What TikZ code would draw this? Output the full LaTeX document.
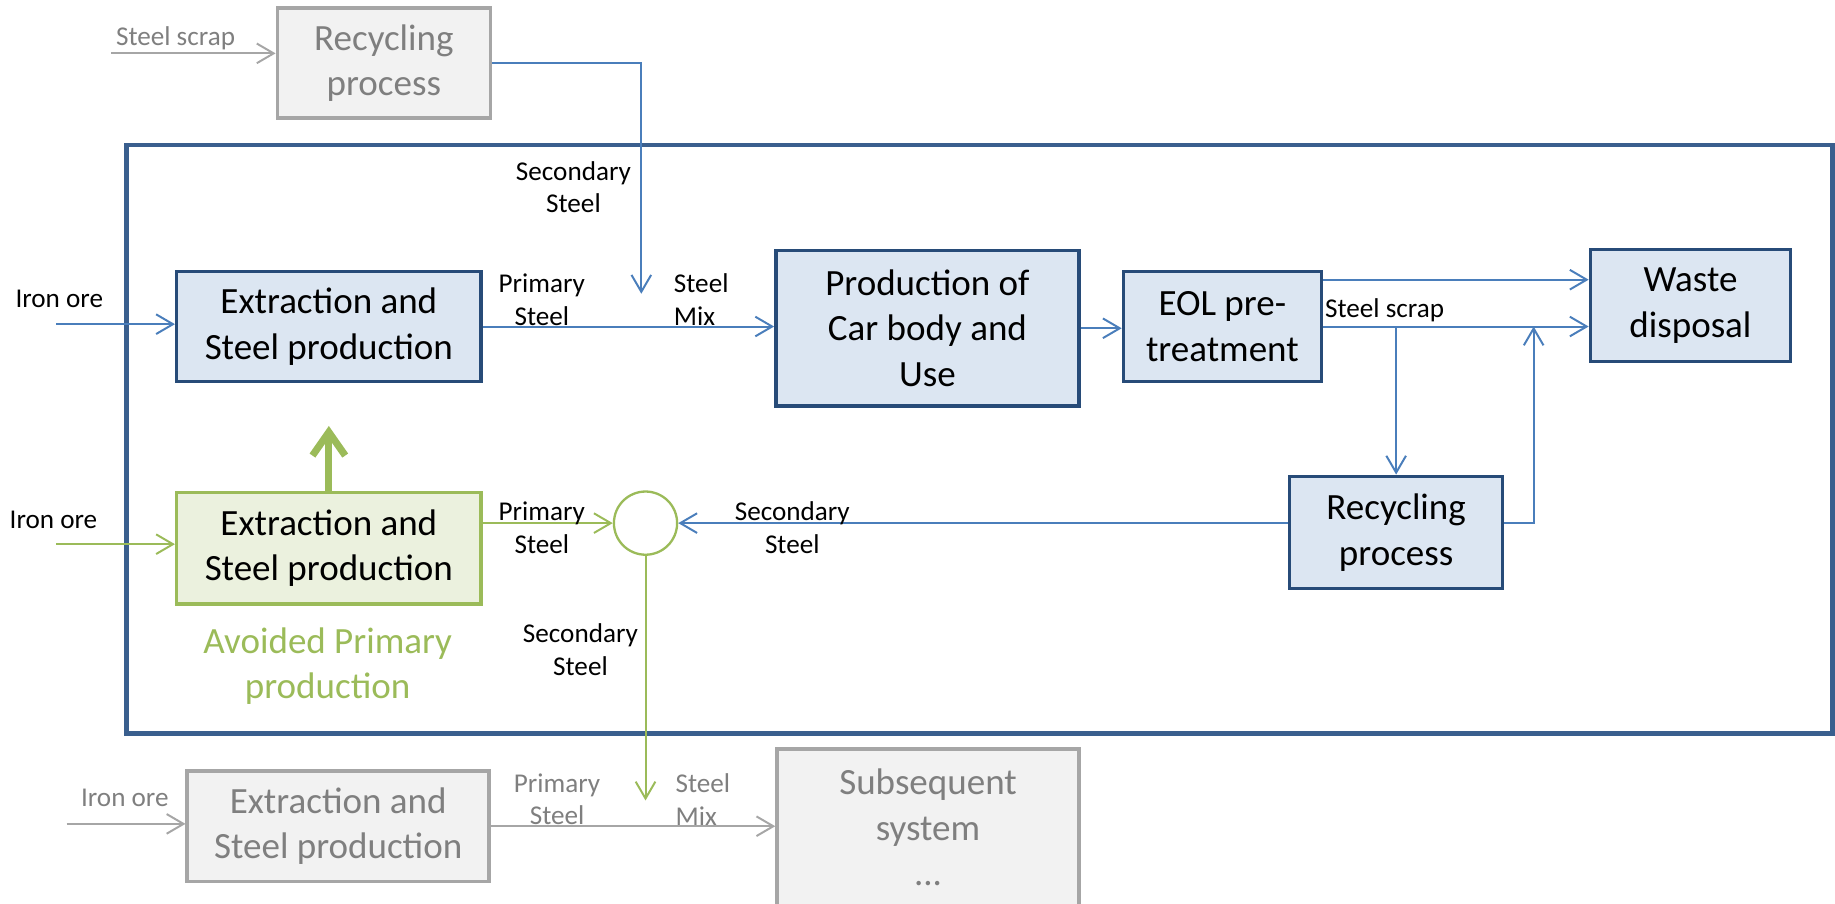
\documentclass[tikz,border=0pt]{standalone}
\usepackage{fontspec}
\setmainfont{Carlito}
\usepackage{tikz}
\usetikzlibrary{positioning,calc,arrows.meta}
\definecolor{boxfill}{HTML}{DCE6F2}
\definecolor{boxline}{HTML}{274B78}
\definecolor{frameline}{HTML}{3A5F8E}
\definecolor{flowblue}{HTML}{4A7EBB}
\definecolor{avoidgreen}{HTML}{9BBB59}
\definecolor{avoidfill}{HTML}{EBF1DE}
\definecolor{greyfill}{HTML}{F2F2F2}
\definecolor{greyline}{HTML}{A6A6A6}
\definecolor{greytext}{HTML}{7F7F7F}

\begin{document}
\begin{tikzpicture}[x=0.025cm, y=-0.025cm,
    proc/.style={draw=boxline, fill=boxfill, line width=2.1pt, align=center, inner sep=0pt,
        font=\fontsize{22.5}{27.6}\selectfont},
    avoided/.style={proc, draw=avoidgreen, fill=avoidfill},
    greyproc/.style={proc, draw=greyline, fill=greyfill, text=greytext},
    mixer/.style={circle, draw=avoidgreen, fill=white, line width=1.4pt, minimum size=1.35cm, inner sep=0pt},
    lbl/.style={font=\fontsize{16.5}{19.8}\selectfont, align=center, inner sep=0pt},
    tip/.style={-{Straight Barb[length=0.36cm,width=0.42cm]}},
    flow/.style={tip, draw=flowblue, line width=1.2pt},
    greenflow/.style={tip, draw=avoidgreen, line width=1.2pt},
    greyflow/.style={tip, draw=greyline, line width=1.2pt}]
    \useasboundingbox (0,0) rectangle (1568,772);
    \clip (0,0) rectangle (1568,772);

    % system boundary
    \draw[frameline, line width=2.8pt] (108,124) rectangle (1566,627);

    % processes
    \node[greyproc, minimum width=4.55cm, minimum height=2.35cm] (recyc0) at (328,54) {Recycling\\process};
    \node[proc, minimum width=6.5cm, minimum height=2.35cm] (ext1) at (281,279) {Extraction and\\Steel production};
    \node[proc, minimum width=6.475cm, minimum height=3.325cm] (prod) at (792.5,280.5) {Production of\\Car body and\\Use};
    \node[proc, minimum width=4.225cm, minimum height=2.35cm] (eol) at (1044.5,279) {EOL pre-\\treatment};
    \node[proc, minimum width=4.275cm, minimum height=2.4cm] (waste) at (1444.5,261) {Waste\\disposal};
    \node[proc, minimum width=4.55cm, minimum height=2.4cm] (recyc1) at (1193,455) {Recycling\\process};
    \node[avoided, minimum width=6.5cm, minimum height=2.375cm] (ext2) at (281,468.5) {Extraction and\\Steel production};
    \node[mixer] (mix) at (551.6,447) {};
    \node[greyproc, minimum width=6.45cm, minimum height=2.35cm] (ext3) at (289,706) {Extraction and\\Steel production};
    \node[greyproc, minimum width=6.45cm, minimum height=3.35cm] (subseq) at (793,707) {Subsequent\\system\\...};

    % free ends
    \coordinate (scrapin) at (95,45.6);
    \coordinate (ore1) at (48,277);
    \coordinate (ore2) at (48,465);
    \coordinate (ore3) at (57,704);
    \coordinate (mixin) at (548,251);
    \coordinate (mixout) at (551.6,684);
    \coordinate (avoid) at (281,364);

    % flows
    \draw[greyflow] (scrapin) -- (scrapin -| recyc0.west);
    \draw[flow] (recyc0.east) -| (mixin);
    \draw[flow] (ore1) -- (ore1 -| ext1.west);
    \draw[flow] (ext1.east) -- (ext1.east -| prod.west);
    \draw[flow] (prod.east) -- (prod.east -| eol.west);
    \draw[flow] ([yshift=1cm]eol.east) -- ([yshift=1cm]eol.east -| waste.west);
    \draw[flow] (eol.east) -- (eol.east -| waste.west);
    \draw[flow] (recyc1.north |- eol.east) -- (recyc1.north);
    \draw[flow] (recyc1.east |- mix) -| ($(recyc1.east |- eol.east)+(25,0)$);
    \draw[flow] (recyc1.west |- mix) -- (mix.east);
    \draw[greenflow] (ore2) -- (ore2 -| ext2.west);
    \draw[greenflow] (ext2.east |- mix) -- (mix.west);
    \draw[greenflow] (mix.south) -- (mixout);
    \draw[avoidgreen, line width=4.3pt, -{Straight Barb[length=0.5cm,width=0.7cm]}] (ext2.north) -- (avoid);
    \draw[greyflow] (ore3) -- (ore3 -| ext3.west);
    \draw[greyflow] (ext3.east) -- (ext3.east -| subseq.west);

    % Labels
    \node[lbl, text=greytext, anchor=base] (lscrap0) at (150,38.5) {Steel scrap};
    \node[lbl] (lsec0) at (490,160) {Secondary\\Steel};
    \node[lbl, anchor=base west] (lore1) at (13,263) {Iron ore};
    \node[lbl] (lprim1) at (463,256) {Primary\\Steel};
    \node[lbl, align=left, anchor=west] (lmix1) at (575.6,256) {Steel\\Mix};
    \node[lbl, anchor=base west] (lscrap1) at (1132,271) {Steel scrap};
    \node[lbl, anchor=base west] (lore2) at (8,451.5) {Iron ore};
    \node[lbl] (lprim2) at (463,451) {Primary\\Steel};
    \node[lbl] (lsec1) at (677,451) {Secondary\\Steel};
    \node[lbl] (lsec2) at (496,555) {Secondary\\Steel};
    \node[lbl, text=avoidgreen, font=\fontsize{22.5}{27.6}\selectfont] (lavoid) at (280,569) {Avoided Primary\\production};
    \node[lbl, text=greytext, anchor=base west] (lore3) at (69,689.4) {Iron ore};
    \node[lbl, text=greytext] (lprim3) at (476,683) {Primary\\Steel};
    \node[lbl, text=greytext, align=left, anchor=west] (lmix3) at (577,683) {Steel\\Mix};
\end{tikzpicture}
\end{document}
